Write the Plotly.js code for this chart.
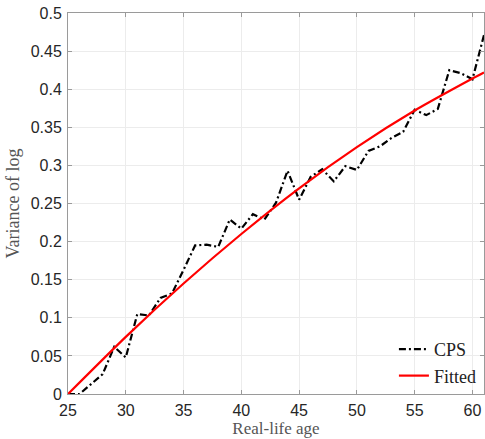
<!DOCTYPE html>
<html>
<head>
<meta charset="utf-8">
<script src="https://cdn.plot.ly/plotly-3.0.1.min.js"></script>
<style>html,body{margin:0;padding:0;background:#fff;}#chart{width:485px;height:439px;}</style>
</head>
<body>
<div id="chart"></div>
<script>
const ages = [25,26,27,28,29,30,31,32,33,34,35,36,37,38,39,40,41,42,43,44,45,46,47,48,49,50,51,52,53,54,55,56,57,58,59,60,61];
const cpsVar = [0,0,0.013,0.026,0.062,0.048,0.105,0.103,0.126,0.132,0.163,0.195,0.196,0.193,0.229,0.217,0.236,0.229,0.251,0.293,0.255,0.285,0.295,0.279,0.299,0.294,0.319,0.325,0.336,0.344,0.373,0.366,0.374,0.425,0.421,0.413,0.471];
const fitAges = [25,30,35,40,45,50,55,60,61];
const fitVar = [0,0.075,0.145,0.210,0.270,0.324,0.372,0.414,0.422];
const xTicks = [25,30,35,40,45,50,55,60];

const axisCol = '#9a9a9a';
const tickFont = {family:'Liberation Sans, Arial, sans-serif', size:16, color:'#262626'};
const titleFont = {family:'Liberation Serif, DejaVu Serif, serif', size:18, color:'#555'};

const traces = [
  {x: ages, y: cpsVar, type:'scatter', mode:'lines', name:'CPS',
   line:{color:'#000', width:2.2, dash:'7px,3px,2px,3px'}},
  {x: fitAges, y: fitVar, type:'scatter', mode:'lines', name:'Fitted',
   line:{color:'#ff0000', width:2.2, shape:'spline', smoothing:0.6}}
];

const layout = {
  width:485, height:439,
  margin:{l:68, r:1, t:13, b:45},
  paper_bgcolor:'#fff', plot_bgcolor:'#fff',
  showlegend:true,
  legend:{x:0.995, y:0.0, xanchor:'right', yanchor:'bottom', bgcolor:'rgba(0,0,0,0)',
    font:{family:'Liberation Serif, DejaVu Serif, serif', size:18, color:'#222'},
    itemwidth:30, tracegroupgap:0},
  xaxis:{range:[25,61], tickvals:xTicks, ticks:'inside', ticklen:4, tickcolor:axisCol,
    showline:true, linecolor:axisCol, linewidth:1, mirror:'ticks',
    showgrid:true, gridcolor:'#ececec', gridwidth:1, zeroline:false,
    tickfont:tickFont, ticklabelstandoff:2,
    title:{text:'Real-life age', font:{family:'Liberation Serif, DejaVu Serif, serif', size:17, color:'#555'}, standoff:3}},
  yaxis:{range:[0,0.5], dtick:0.05, tick0:0, ticks:'inside', ticklen:4, tickcolor:axisCol,
    showline:true, linecolor:axisCol, linewidth:1, mirror:'ticks',
    showgrid:true, gridcolor:'#ececec', gridwidth:1, zeroline:false,
    tickfont:tickFont, ticklabelstandoff:2,
    title:{text:'Variance of log', font:titleFont, standoff:6}}
};

Plotly.newPlot('chart', traces, layout, {displayModeBar:false, staticPlot:true});
</script>
</body>
</html>
